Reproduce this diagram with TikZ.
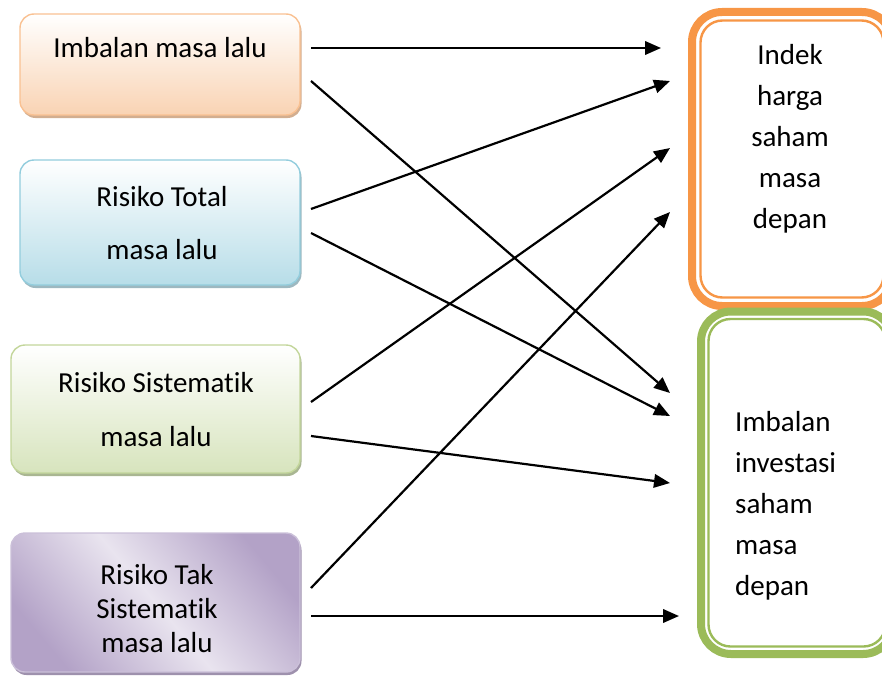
\documentclass[tikz,border=0pt]{standalone}
\usepackage{fontspec}
\setmainfont{Carlito}[Ligatures=NoCommon]
\usetikzlibrary{arrows.meta,shadows,calc}

\definecolor{peachEdge}{HTML}{F9C192}
\definecolor{peachFill}{HTML}{F9D3B3}
\definecolor{peachShade}{HTML}{D2AE90}
\definecolor{blueEdge}{HTML}{93CDDD}
\definecolor{blueFill}{HTML}{B7DDE8}
\definecolor{blueShade}{HTML}{9DB8C0}
\definecolor{greenEdge}{HTML}{C3D69B}
\definecolor{greenFill}{HTML}{D7E4BD}
\definecolor{greenShade}{HTML}{A9B692}
\definecolor{lilacEdge}{HTML}{CBC0D9}
\definecolor{lilacDark}{HTML}{B3A2C7}
\definecolor{lilacLight}{HTML}{E9E4EF}
\definecolor{lilacShade}{HTML}{9E91AD}
\definecolor{accOrange}{HTML}{F79646}
\definecolor{accGreen}{HTML}{9BBB59}

\begin{document}
\begin{tikzpicture}[x=1pt,y=-1pt,
  srcbox/.style={rounded corners=14pt, line width=1.4pt, outer sep=0pt,
    inner sep=0pt, minimum width=#1},
  shade/.style={drop shadow={shadow xshift=1.5pt, shadow yshift=-3pt,
    opacity=1, fill=#1}},
  lbl/.style={inner sep=0pt, align=center,
    font=\fontsize{29}{35}\selectfont},
  tgtbox/.style={rounded corners=30pt, line width=8pt, outer sep=0pt,
    inner sep=0pt, fill=white},
  tgttxt/.style={inner sep=0pt, font=\fontsize{29}{41}\selectfont},
  link/.style={line width=2.2pt, -{Triangle[length=16pt, width=13.5pt]}}
]
\useasboundingbox (0,0) rectangle (882,677);

% ---- sources (left column) ----
\node[srcbox=280pt, minimum height=101pt, draw=peachEdge,
  top color=white, bottom color=peachFill, shade=peachShade]
  (past1) at (160,64.5) {};
\node[lbl] (past1txt) at (160,48) {Imbalan masa lalu};

\node[srcbox=280pt, minimum height=125pt, draw=blueEdge,
  top color=white, bottom color=blueFill, shade=blueShade]
  (past2) at (160,222.5) {};
\node[lbl, font=\fontsize{29}{53}\selectfont] (past2txt) at (162,223.5)
  {Risiko Total\\masa lalu};

\node[srcbox=289pt, minimum height=128pt, draw=greenEdge,
  top color=white, bottom color=greenFill, shade=greenShade]
  (past3) at (155.5,409) {};
\node[lbl, font=\fontsize{29}{54}\selectfont] (past3txt) at (156,410)
  {Risiko Sistematik\\masa lalu};

\node[srcbox=289pt, minimum height=139pt, draw=lilacEdge,
  shading=axis, top color=lilacDark, bottom color=lilacDark,
  middle color=lilacLight, shading angle=-50, shade=lilacShade]
  (past4) at (155.5,602.5) {};
\node[lbl, font=\fontsize{29}{34}\selectfont] (past4txt) at (157,609)
  {Risiko Tak\\Sistematik\\masa lalu};

% ---- targets (right column) ----
\node[tgtbox, draw=accOrange, minimum width=200pt, minimum height=294pt]
  (fut1) at (792,159) {};
\draw[accOrange, line width=2.4pt, rounded corners=22pt]
  ($(fut1.north west)+(8.5,8.5)$) rectangle ($(fut1.south east)+(-8.5,-8.5)$);
\node[tgttxt, align=center] (fut1txt) at (790,139)
  {Indek\\harga\\saham\\masa\\depan};

\node[tgtbox, draw=accGreen, minimum width=192pt, minimum height=342.5pt]
  (fut2) at (797,482.75) {};
\draw[accGreen, line width=2.4pt, rounded corners=22pt]
  ($(fut2.north west)+(7.5,7.5)$) rectangle ($(fut2.south east)+(-7.5,-7.5)$);
\node[tgttxt, align=left, anchor=west] (fut2txt) at (735,506)
  {Imbalan\\investasi\\saham\\masa\\depan};

% ---- connector ends ----
\coordinate (s1) at (311,48);   \coordinate (e1) at (661,48);
\coordinate (s2) at (311,81);   \coordinate (e2) at (670,393);
\coordinate (s3) at (311,209);  \coordinate (e3) at (670,81);
\coordinate (s4) at (311,233);  \coordinate (e4) at (670,416);
\coordinate (s5) at (311,402);  \coordinate (e5) at (670,148);
\coordinate (s6) at (311,436);  \coordinate (e6) at (670,483);
\coordinate (s7) at (311,588);  \coordinate (e7) at (670,212);
\coordinate (s8) at (311,616);  \coordinate (e8) at (679,616);

\foreach \i in {1,...,8} {
  \draw[link] (s\i) -- (e\i);
}
\end{tikzpicture}
\end{document}
